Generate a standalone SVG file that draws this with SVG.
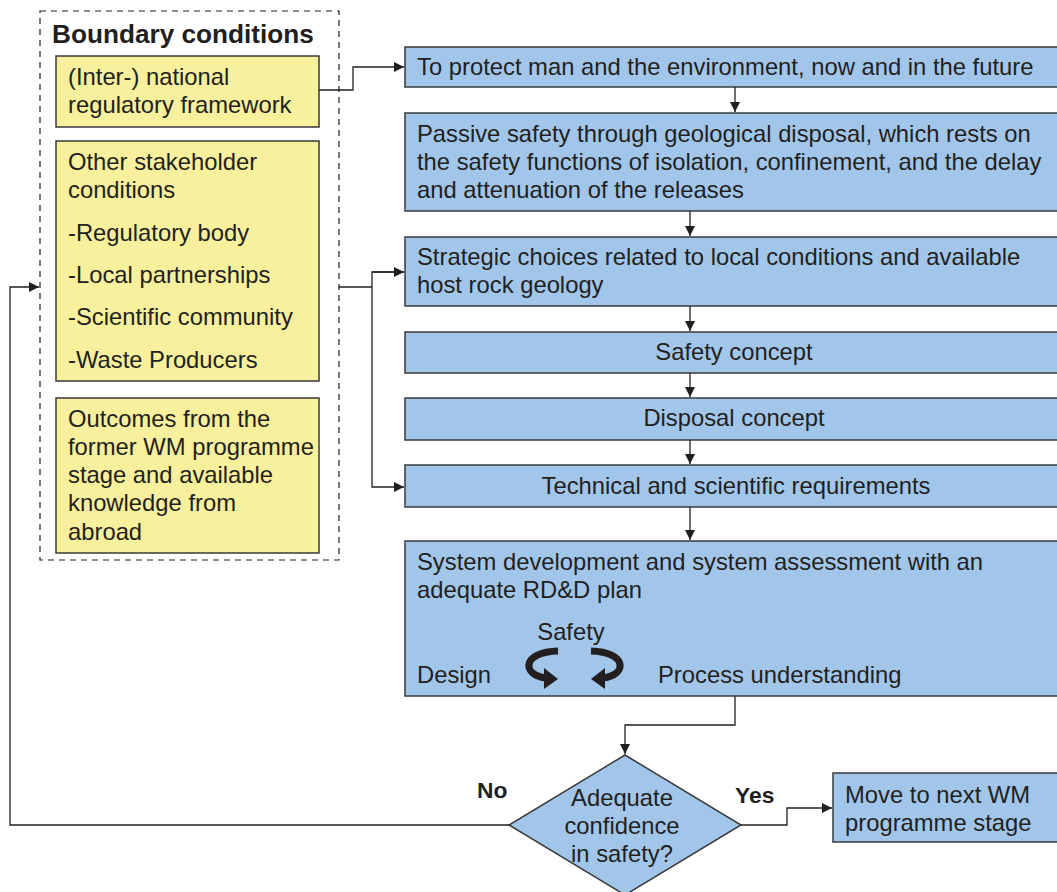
<svg xmlns="http://www.w3.org/2000/svg" width="1057" height="892" viewBox="0 0 1057 892">
<style>
text{font-family:"Liberation Sans",Arial,sans-serif;font-size:23.8px;fill:#231f20}
.b{font-weight:bold}
.c{text-anchor:middle}
.y{fill:#f8f09c;stroke:#3a3a3a;stroke-width:1.5}
.bl{fill:#a1c6ea;stroke:#3a3a3a;stroke-width:1.5}
.ln{fill:none;stroke:#231f20;stroke-width:1.3}
</style>
<defs>
<marker id="a" markerWidth="10" markerHeight="10" refX="10" refY="5" orient="auto" markerUnits="userSpaceOnUse"><path d="M0,0L10,5L0,10z" fill="#231f20"/></marker>
</defs>
<g id="boundary">
<rect x="40" y="11" width="299" height="549" fill="none" stroke="#231f20" stroke-width="1.2" stroke-dasharray="6,5"/>
<text x="52" y="43" class="b" style="font-size:26.2px">Boundary conditions</text>
</g>
<g id="n-regulatory">
<rect class="y" x="56" y="56" width="263" height="71"/>
<text x="68" y="85">(Inter-) national</text>
<text x="68" y="113">regulatory framework</text>
</g>
<g id="n-stakeholder">
<rect class="y" x="56" y="141" width="263" height="240"/>
<text x="68" y="170">Other stakeholder</text>
<text x="68" y="198">conditions</text>
<text x="68" y="241">-Regulatory body</text>
<text x="68" y="283">-Local partnerships</text>
<text x="68" y="325">-Scientific community</text>
<text x="68" y="368">-Waste Producers</text>
</g>
<g id="n-outcomes">
<rect class="y" x="56" y="398" width="263" height="155"/>
<text x="68" y="427">Outcomes from the</text>
<text x="68" y="455">former WM programme</text>
<text x="68" y="483">stage and available</text>
<text x="68" y="511">knowledge from</text>
<text x="68" y="540">abroad</text>
</g>
<g id="n-protect">
<rect class="bl" x="405" y="47" width="660" height="40"/>
<text x="417" y="75">To protect man and the environment, now and in the future</text>
</g>
<g id="n-passive">
<rect class="bl" x="405" y="113" width="660" height="98"/>
<text x="417" y="142">Passive safety through geological disposal, which rests on</text>
<text x="417" y="170">the safety functions of isolation, confinement, and the delay</text>
<text x="417" y="198">and attenuation of the releases</text>
</g>
<g id="n-strategic">
<rect class="bl" x="405" y="237" width="660" height="69"/>
<text x="417" y="265">Strategic choices related to local conditions and available</text>
<text x="417" y="293">host rock geology</text>
</g>
<g id="n-safety">
<rect class="bl" x="405" y="332" width="660" height="41"/>
<text x="734" y="360" class="c">Safety concept</text>
</g>
<g id="n-disposal">
<rect class="bl" x="405" y="398" width="660" height="42"/>
<text x="734" y="426" class="c">Disposal concept</text>
</g>
<g id="n-technical">
<rect class="bl" x="405" y="465" width="660" height="42"/>
<text x="736" y="494" class="c">Technical and scientific requirements</text>
</g>
<g id="n-system">
<rect class="bl" x="405" y="541" width="660" height="155"/>
<text x="417" y="570">System development and system assessment with an</text>
<text x="417" y="598">adequate RD&amp;D plan</text>
<text x="571" y="640" class="c">Safety</text>
<text x="417" y="683">Design</text>
<text x="658" y="683">Process understanding</text>
<path d="M558,651 C522,652 521,675 546,678" fill="none" stroke="#231f20" stroke-width="7"/>
<path d="M544,668 L558,679 L544,689z" fill="#231f20"/>
<path d="M591,651 C627,652 628,675 603,678" fill="none" stroke="#231f20" stroke-width="7"/>
<path d="M605,668 L591,679 L605,689z" fill="#231f20"/>
</g>
<g id="n-decision">
<path class="bl" d="M625,755 L741,825 L625,895 L509,825z"/>
<text x="622" y="806" class="c">Adequate</text>
<text x="622" y="834" class="c">confidence</text>
<text x="622" y="862" class="c">in safety?</text>
</g>
<g id="n-next">
<rect class="bl" x="833" y="773" width="230" height="69"/>
<text x="845" y="803">Move to next WM</text>
<text x="845" y="831">programme stage</text>
</g>
<g id="connectors">
<path class="ln" d="M319,90 H353 V67 H404" marker-end="url(#a)"/>
<path class="ln" d="M735,87 V112" marker-end="url(#a)"/>
<path class="ln" d="M690,211 V236" marker-end="url(#a)"/>
<path class="ln" d="M339,287 H372"/>
<path class="ln" d="M404,272 H372 V487 H404" marker-end="url(#a)"/>
<path class="ln" d="M372,272 H404" marker-end="url(#a)"/>
<path class="ln" d="M690,306 V331" marker-end="url(#a)"/>
<path class="ln" d="M690,373 V397" marker-end="url(#a)"/>
<path class="ln" d="M690,440 V464" marker-end="url(#a)"/>
<path class="ln" d="M690,507 V540" marker-end="url(#a)"/>
<path class="ln" d="M735,696 V725 H625 V754" marker-end="url(#a)"/>
<path class="ln" d="M741,825 H787 V808 H832" marker-end="url(#a)"/>
<path class="ln" d="M509,825 H10 V287 H39" marker-end="url(#a)"/>
<text x="477" y="798" class="b" style="font-size:22.8px">No</text>
<text x="735" y="803" class="b" style="font-size:22.8px">Yes</text>
</g>
</svg>
